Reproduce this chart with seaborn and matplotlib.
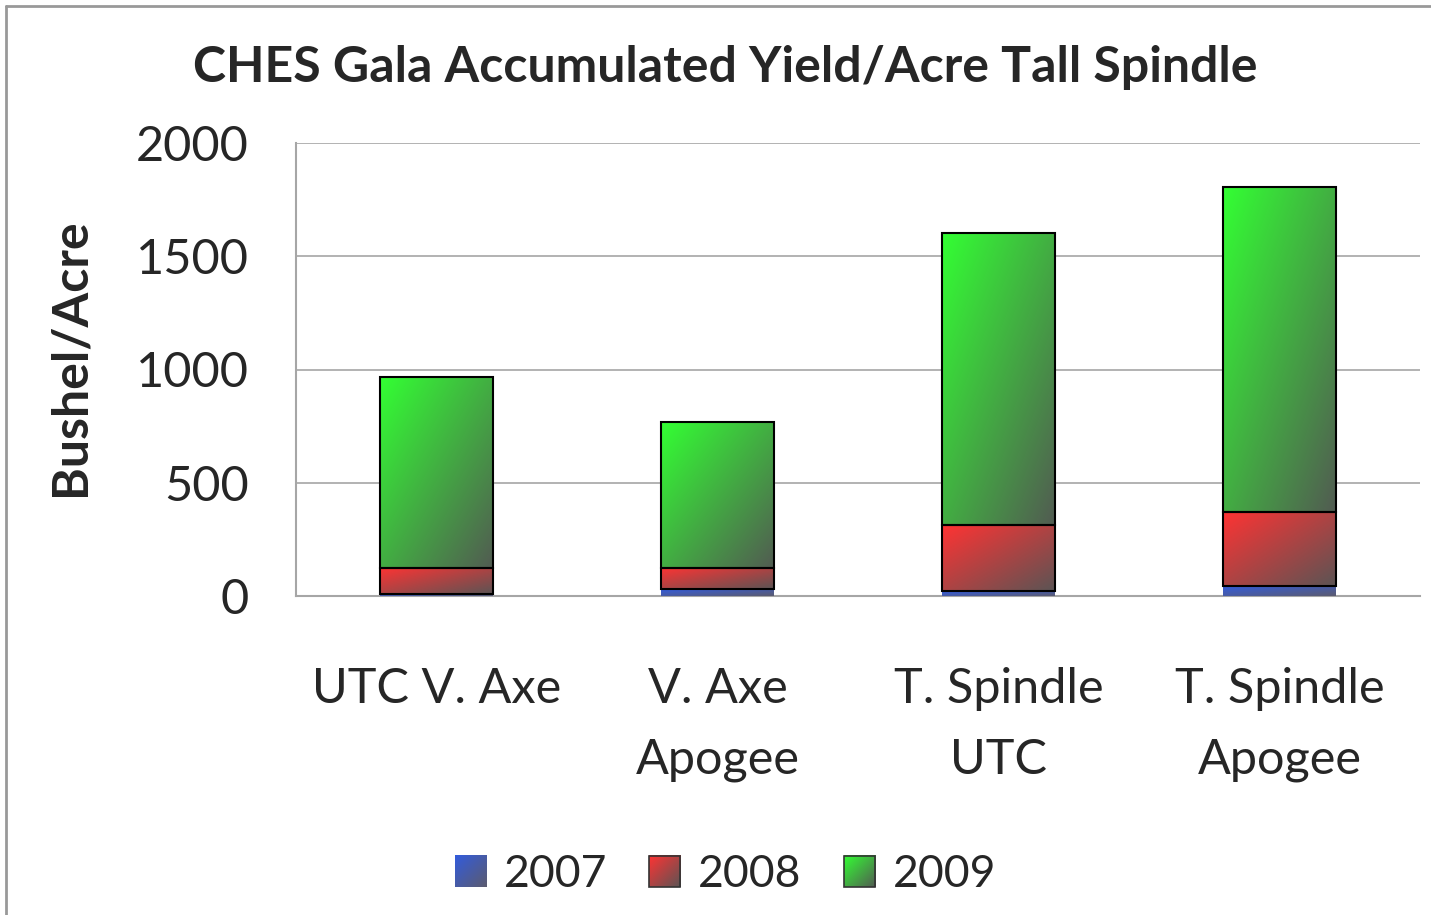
import numpy as np
import pandas as pd
import matplotlib
matplotlib.use("Agg")
import matplotlib.pyplot as plt
import seaborn as sns
from matplotlib.patches import Rectangle
from matplotlib.lines import Line2D
from matplotlib.legend_handler import HandlerBase
from matplotlib.image import BboxImage
from matplotlib.transforms import Bbox, TransformedBbox

# Data (bushel/acre per year, stacked)
categories = ["UTC V. Axe", "V. Axe\nApogee", "T. Spindle\nUTC", "T. Spindle\nApogee"]
years = ["2007", "2008", "2009"]
yield_2007 = [10, 30, 21, 43]
yield_2008 = [115, 95, 291, 327]
yield_2009 = [841, 642, 1290, 1435]
yticks = [0, 500, 1000, 1500, 2000]

series = [yield_2007, yield_2008, yield_2009]
top_colors = [(0.20, 0.36, 0.86), (1.00, 0.20, 0.20), (0.20, 1.00, 0.20)]
end_colors = [(0.36, 0.36, 0.44), (0.36, 0.33, 0.33), (0.32, 0.36, 0.32)]
edge_colors = ["none", "black", "black"]

sns.set_style("white")
plt.rcParams['font.family'] = ['Lato', 'DejaVu Sans']

fig = plt.figure(figsize=(14.31, 9.15), dpi=100)
ax = fig.add_axes([296 / 1431, 1 - 596 / 915, (1420 - 296) / 1431, (596 - 143) / 915])


def gradient(c0, c1, n=80):
    u = np.linspace(0, 1, n)
    t = (u[None, :] + u[:, None]) / 2.0
    c0 = np.array(c0)
    c1 = np.array(c1)
    return c0[None, None, :] * (1 - t[..., None]) + c1[None, None, :] * t[..., None]


class GradientHandler(HandlerBase):
    def __init__(self, img, ec):
        super().__init__()
        self.img = img
        self.ec = ec

    def create_artists(self, legend, orig_handle, xdescent, ydescent,
                       width, height, fontsize, trans):
        bb = TransformedBbox(Bbox.from_bounds(-xdescent, -ydescent, width, height), trans)
        im = BboxImage(bb, interpolation="bilinear")
        im.set_data(self.img)
        r = Rectangle((-xdescent, -ydescent), width, height, facecolor="none",
                      edgecolor=self.ec, linewidth=1.2, transform=trans)
        return [im, r]


bottom = np.zeros(len(categories))
for year, vals, c0, c1, ec in zip(years, series, top_colors, end_colors, edge_colors):
    df = pd.DataFrame({"cat": categories, "val": vals})
    n_before = len(ax.patches)
    sns.barplot(data=df, x="cat", y="val", order=categories, width=0.4,
                bottom=bottom, color=c0, edgecolor=ec, linewidth=1.5,
                errorbar=None, ax=ax, zorder=3)
    img = gradient(c0, c1)
    for p in ax.patches[n_before:]:
        x, y = p.get_x(), p.get_y()
        w, h = p.get_width(), p.get_height()
        im = ax.imshow(img, extent=[x, x + w, y, y + h], origin="upper",
                       aspect="auto", zorder=3, interpolation="bilinear")
        im.set_clip_path(p)
        p.set_facecolor("none")
        p.set_zorder(4)
    bottom = bottom + np.array(vals)

ax.set_xlim(-0.5, len(categories) - 0.5)
ax.set_ylim(0, 2000)
ax.set_yticks(yticks)
ax.set_yticklabels([str(v) for v in yticks], fontsize=35)
ax.yaxis.grid(True, color="#a6a6a6", linewidth=1.2, zorder=0)
ax.set_axisbelow(True)

ax.set_xticks(np.arange(len(categories)))
ax.set_xticklabels(categories, fontsize=35, linespacing=1.75)
ax.set_xticks(np.arange(-0.5, len(categories)), minor=True)
ax.tick_params(axis="x", which="major", length=0, pad=51)
ax.tick_params(axis="x", which="minor", length=17, width=1.5, color="#a6a6a6", direction="out")
ax.tick_params(axis="y", length=19, width=1.5, color="#a6a6a6", direction="out", pad=15)

for s in ["top", "right"]:
    ax.spines[s].set_visible(False)
for s in ["left", "bottom"]:
    ax.spines[s].set_color("#a6a6a6")
    ax.spines[s].set_linewidth(1.5)

ax.set_xlabel("")
ax.set_ylabel("Bushel/Acre", fontsize=36, fontweight="bold")
ax.yaxis.set_label_coords(-0.181, 0.527)

fig.text(0.507, 0.926, "CHES Gala Accumulated Yield/Acre Tall Spindle",
         ha="center", va="center", fontsize=36, fontweight="bold")

handles = [Rectangle((0, 0), 1, 1) for _ in years]
handler_map = {h: GradientHandler(gradient(c0, c1, 40), ("#333333" if i else "none"))
               for i, (h, c0, c1) in enumerate(zip(handles, top_colors, end_colors))}
fig.legend(handles, years, loc="center", bbox_to_anchor=(0.507, 0.044), ncol=3,
           frameon=False, fontsize=32, handlelength=0.7, handleheight=0.7,
           handletextpad=0.4, columnspacing=0.95, handler_map=handler_map)

# outer chart border (left and top)
fig.add_artist(Line2D([6 / 1431, 6 / 1431], [0, 1 - 6 / 915], transform=fig.transFigure,
                      color="#999999", linewidth=2))
fig.add_artist(Line2D([6 / 1431, 1], [1 - 6 / 915, 1 - 6 / 915], transform=fig.transFigure,
                      color="#999999", linewidth=2))

fig.savefig("out.png", dpi=100, facecolor="white")
